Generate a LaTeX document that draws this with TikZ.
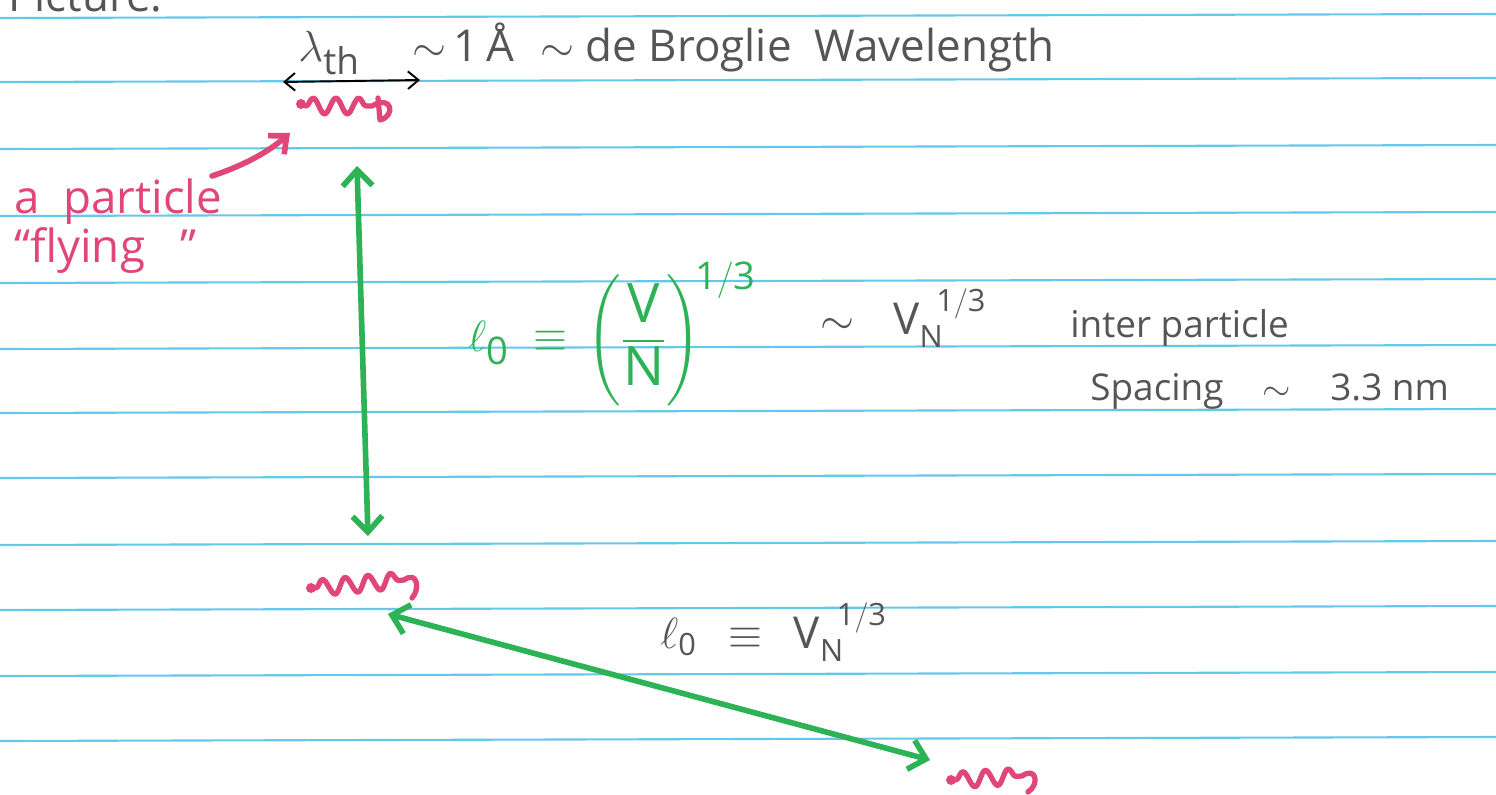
\documentclass[tikz,border=0pt]{standalone}
\usepackage{amsmath}
\usepackage{fontspec}
\setmainfont{Open Sans}
\usetikzlibrary{arrows.meta,decorations.pathmorphing}
\definecolor{ruleblue}{RGB}{100,200,235}
\definecolor{pencil}{RGB}{85,85,85}
\definecolor{pinkred}{RGB}{225,70,120}
\definecolor{pengreen}{RGB}{45,178,85}
\begin{document}
\begin{tikzpicture}[x=0.02cm,y=-0.02cm,
  rule/.style={ruleblue,line width=1.2pt},
  pencil/.style={text=pencil,font=\fontsize{25}{28}\selectfont,inner sep=0pt,anchor=base west},
  pencilsmall/.style={pencil,font=\fontsize{21}{24}\selectfont},
  redtext/.style={text=pinkred,font=\fontsize{26}{28}\selectfont,inner sep=0pt,anchor=base west},
  greentext/.style={text=pengreen,font=\fontsize{31}{36}\selectfont,inner sep=0pt},
  particle/.style={pinkred,line width=3pt,line cap=round,line join=round,
    decoration={snake,segment length=13pt,amplitude=4.5pt}},
  greenarrow/.style={pengreen,line width=3.2pt,{Straight Barb[length=9pt,width=17pt]}-{Straight Barb[length=9pt,width=17pt]}},
  pencilarrow/.style={pencil,line width=1.1pt,{Straight Barb[length=6pt,width=10pt]}-{Straight Barb[length=6pt,width=10pt]}},
  redarrow/.style={pinkred,line width=3.2pt,line cap=round,-{Straight Barb[length=8pt,width=14pt]}}
]
\useasboundingbox (0,0) rectangle (1496,794);
\fill[white] (0,0) rectangle (1496,794);
\foreach \y in {18,82,149,216,283,349,413,478,545,610,676,741}
  \draw[rule] (0,\y) -- (1496,\y-4);

% header
\node[pencil] (pic) at (8,12) {Picture:};
\node[pencil,font=\fontsize{30}{32}\selectfont] (lam) at (298,62) {$\lambda_{\mathrm{th}}$};
\node[pencil] (ang) at (412,62) {$\sim$\,1\,Å};
\node[pencil] (dbw) at (540,62) {$\sim$ de Broglie\ \ Wavelength};
\coordinate (lamL) at (283,82);
\coordinate (lamR) at (420,80);
\draw[pencilarrow] (lamL) -- (lamR);

% top particle
\coordinate (p1) at (340,106);
\fill[pinkred] (301,104) circle (5);
\draw[particle] (306,106) decorate {-- (372,106)} .. controls (392,94) and (396,116) .. (380,120) -- (378,98);
% label
\node[redtext] (apart) at (14,213) {a\ \ particle};
\node[redtext] (fly) at (14,262) {``flying\ \ \ ''};
\coordinate (flyS) at (212,176);
\coordinate (flyE) at (290,133);
\draw[redarrow] (flyS) .. controls (245,165) and (268,152) .. (flyE);

% vertical spacing arrow
\coordinate (vtop) at (357,166);
\coordinate (vbot) at (368,536);
\draw[greenarrow] (vtop) -- (vbot);

% green formula
\node[greentext,anchor=west] (l0) at (468,334) {$\ell_{\mathrm{0}}\; \equiv\, \left(\dfrac{\mathrm{V}}{\mathrm{N}}\right)^{\!\mathrm{1/3}}$};
\node[pencil] (sim) at (820,334) {$\sim$};
\node[pencil] (vn) at (893,334) {$\mathrm{V}_{\mathrm{N}}^{\;\;\mathrm{1/3}}$};
\node[pencilsmall] (inter) at (1070,337) {inter particle};
\node[pencilsmall] (spac) at (1090,400) {Spacing};
\node[pencilsmall] (spt) at (1262,400) {$\sim$};
\node[pencilsmall] (spv) at (1330,400) {3.3\ nm};

% middle particle
\coordinate (p2) at (360,580);
\fill[pinkred] (311,588) circle (5);
\draw[particle] (316,588) decorate {-- (404,580)} .. controls (418,570) and (420,590) .. (412,598);

% diagonal arrow
\coordinate (dtop) at (388,614);
\coordinate (dbot) at (930,760);
\draw[greenarrow] (dtop) -- (dbot);
\node[pencil] (l0b) at (660,648) {$\ell_{\mathrm{0}}\;\, \equiv\;\, \mathrm{V}_{\mathrm{N}}^{\;\;\mathrm{1/3}}$};

% bottom particle
\coordinate (p3) at (990,775);
\fill[pinkred] (951,780) circle (5);
\draw[particle] (956,780) decorate {-- (1022,776)} .. controls (1036,766) and (1040,784) .. (1028,792);
\end{tikzpicture}
\end{document}
